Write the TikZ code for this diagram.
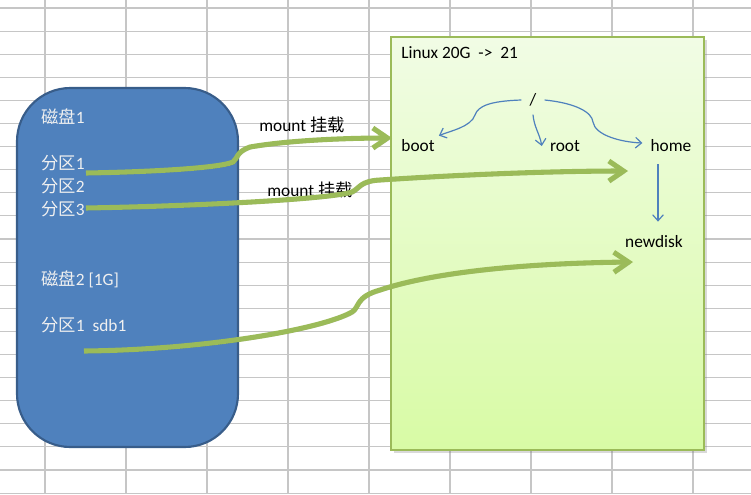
\documentclass[tikz,border=0pt]{standalone}
\usepackage{fontspec}
\setmainfont{Carlito}
\newfontfamily\cjk{Noto Sans CJK SC}
\usetikzlibrary{arrows.meta,calc,shadows,positioning}
\definecolor{diskblue}{HTML}{4F81BD}
\definecolor{diskedge}{HTML}{385D8A}
\definecolor{mntgreen}{HTML}{9BBB59}
\definecolor{fstop}{HTML}{F1FCE5}
\definecolor{fsbot}{HTML}{D8FBA5}
\definecolor{gridgray}{HTML}{C6C6C6}

\begin{document}
\begin{tikzpicture}[x=0.75pt,y=-0.75pt,
  every node/.style={font=\fontsize{13}{15}\selectfont},
  disktext/.style={anchor=west,inner sep=0pt,text=white!94!black},
  mnt/.style={draw=mntgreen,line width=3.8pt,-{Straight Barb[length=11pt,width=15pt]},
    preaction={draw=black,opacity=.18,transform canvas={xshift=1pt,yshift=-1.5pt}}},
  tree/.style={draw=diskblue,line width=0.9pt,-{Straight Barb[length=4.5pt,width=8pt]}}]
\useasboundingbox (0,0) rectangle (751,494);
\foreach \gx in {45,126,...,693} \draw [gridgray,line width=0.8pt] (\gx,0) -- (\gx,494);
\foreach \k in {0,...,21} \draw [gridgray,line width=0.8pt] (0,{8+23.1*\k}) -- (751,{8+23.1*\k});

\draw [fill=diskblue,draw=diskedge,line width=1.6pt,rounded corners=40pt] (17,88) rectangle (238,447);
\draw [draw=mntgreen,line width=1pt,top color=fstop,bottom color=fsbot,
  drop shadow={shadow xshift=2pt,shadow yshift=-2pt,opacity=.3}] (391,37) rectangle (704,450);

\node [disktext] (d1) at (41,117) {{\cjk 磁盘}1};
\node [disktext] (p1) at (41,163) {{\cjk 分区}1};
\node [disktext] (p2) at (41,186) {{\cjk 分区}2};
\node [disktext] (p3) at (41,209) {{\cjk 分区}3};
\node [disktext] (d2) at (41,279) {{\cjk 磁盘}2 [1G]};
\node [disktext] (q1) at (41,325) {{\cjk 分区}1\ \ sdb1};

\node [anchor=west,inner sep=0pt] (linux) at (401,53) {Linux 20G\ \ ->\ \ 21};
\node [inner sep=6pt] (slash) at (533,100) {/};
\node [inner sep=3pt] (boot) at (418,146) {boot};
\node [inner sep=3pt] (root) at (565,146) {root};
\node [inner sep=3pt] (home) at (671,146) {home};
\node [inner sep=3pt] (newdisk) at (654,242) {newdisk};

\node [anchor=west,inner sep=0pt] (m1) at (259,125) {mount {\cjk 挂载}};
\node [anchor=west,inner sep=0pt] (m2) at (267,190) {mount {\cjk 挂载}};

\draw [tree] (slash.west) .. controls (490,101) and (478,106) .. (475,115) .. controls (471,127) and (450,131) .. (boot.north east);
\draw [tree] (slash.south) to[out=-85,in=100] ($(root.west)+(-4,0)$);
\draw [tree] (slash.east) .. controls (575,103) and (592,112) .. (593,122) .. controls (595,135) and (620,142) .. ($(home.west)+(-4,-3)$);
\draw [tree] ($(home.south -| newdisk.north)+(4,8)$) -- ($(newdisk.north)+(4,-10)$);

\coordinate (s1) at (86,173); \coordinate (e1) at (392,138);
\coordinate (s2) at (86,208); \coordinate (e2) at (628,171);
\coordinate (s3) at (84,351); \coordinate (e3) at (633,262);
\draw [mnt] (s1) .. controls (150,172) and (220,168) .. (233,162) .. controls (238,158) and (236,152) .. (250,147) .. controls (290,140) and (350,138) .. (e1);
\draw [mnt] (s2) .. controls (200,206) and (330,199) .. (352,192) .. controls (360,188) and (360,181) .. (380,180) .. controls (470,174) and (560,171) .. (e2);
\draw [mnt] (s3) .. controls (200,350) and (320,330) .. (352,312) .. controls (360,307) and (355,297) .. (380,290) .. controls (440,270) and (540,263) .. (e3);
\end{tikzpicture}
\end{document}
